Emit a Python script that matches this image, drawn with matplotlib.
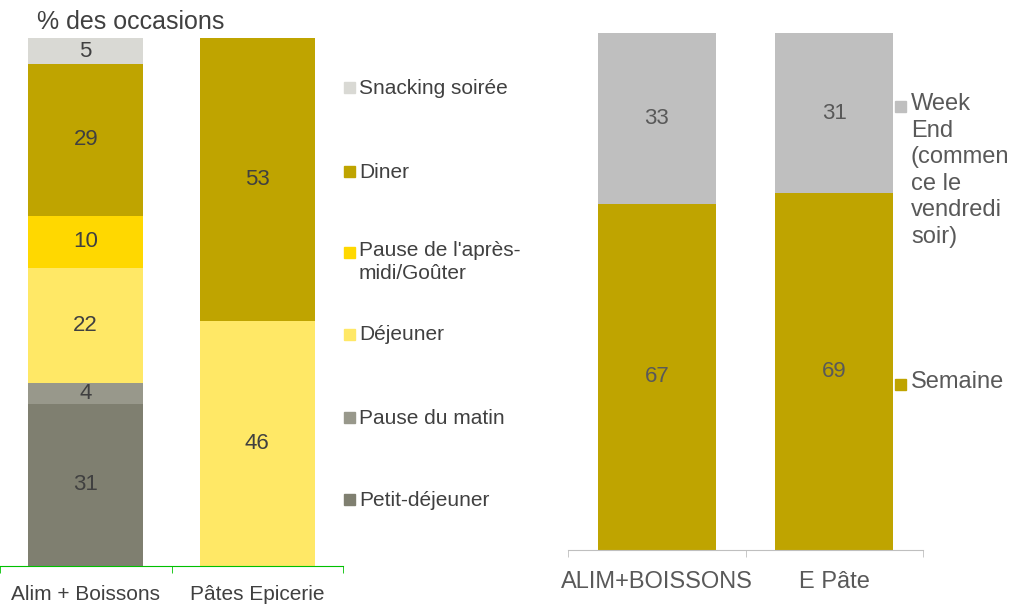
import matplotlib.pyplot as plt
import numpy as np

plt.rcParams['font.family'] = ['Liberation Sans', 'DejaVu Sans']

# Répartition des occasions (valeurs en %)
produits = ["Alim + Boissons", "Pâtes Epicerie"]
occasions = ["Petit-déjeuner", "Pause du matin", "Déjeuner",
             "Pause de l'après-\nmidi/Goûter", "Diner", "Snacking soirée"]
occ_values = {
    "Petit-déjeuner": [31, 0],
    "Pause du matin": [4, 0],
    "Déjeuner": [22, 46],
    "Pause de l'après-\nmidi/Goûter": [10, 0],
    "Diner": [29, 53],
    "Snacking soirée": [5, 0],
}
occ_colors = ["#7f7f70", "#98988b", "#ffe866", "#ffd800", "#bfa400", "#d9d9d4"]

# Semaine / week-end
produits2 = ["ALIM+BOISSONS", "E Pâte"]
periodes = ["Semaine", "Week\nEnd\n(commen\nce le\nvendredi\nsoir)"]
semaine = [67, 69]
week_end = [33, 31]
per_colors = ["#bfa400", "#bfbfbf"]

W, H = 1011, 604
fig = plt.figure(figsize=(W / 100, H / 100), dpi=100)


def stacked(ax, cats, series, colors, width, txt_color, axis_color, fs, pad):
    x = np.arange(len(cats))
    totals = np.sum(series, axis=0)
    bottom = np.zeros(len(cats))
    for vals, col in zip(series, colors):
        vals = np.array(vals, dtype=float)
        share = vals / totals * 100
        ax.bar(x, share, width, bottom=bottom, color=col)
        for xi, v, b, s in zip(x, vals, bottom, share):
            if v > 0:
                ax.text(xi, b + s / 2, f"{v:g}", ha="center", va="center",
                        fontsize=fs, color=txt_color)
        bottom += share
    ax.set_xlim(-0.5, len(cats) - 0.5)
    ax.set_ylim(0, 100)
    for s in ["top", "right", "left"]:
        ax.spines[s].set_visible(False)
    ax.spines["bottom"].set_color(axis_color)
    ax.set_yticks([])
    ax.set_xticks(x)
    ax.set_xticklabels(cats)
    ax.tick_params(axis="x", which="major", length=0, pad=pad)
    ax.set_xticks(np.arange(len(cats) + 1) - 0.5, minor=True)
    ax.tick_params(axis="x", which="minor", length=5, color=axis_color)


# Graphique de gauche
ax1 = fig.add_axes([0 / W, 38 / H, 343 / W, 528 / H])
stacked(ax1, produits, [occ_values[o] for o in occasions], occ_colors,
        0.67, "#404040", "#00c000", 16, 14)
ax1.tick_params(axis="x", which="major", labelcolor="#404040", labelsize=15)
fig.text(37 / W, 1 - 22 / H, "% des occasions", fontsize=18, color="#404040",
         va="center", ha="left")

# légende gauche
leg_y = [500, 418, 335, 241, 172, 88]
for lab, col, y in zip(occasions, occ_colors, leg_y):
    multi = "\n" in lab
    fig.patches.append(plt.Rectangle((344 / W, 1 - ((y + 12 if multi else y) + 5) / H),
                                     11 / W, 11 / H,
                                     transform=fig.transFigure, color=col))
    fig.text(359 / W, 1 - y / H, lab, fontsize=15, color="#404040",
             va="top" if multi else "center", ha="left", linespacing=1.25)

# Graphique de droite
ax2 = fig.add_axes([568 / W, 54 / H, 355 / W, 517 / H])
stacked(ax2, produits2, [semaine, week_end], per_colors,
        0.665, "#595959", "#bfbfbf", 16, 15)
ax2.tick_params(axis="x", which="major", labelcolor="#595959", labelsize=17)

# légende droite
for lab, col, y in zip(periodes, per_colors, [384, 106]):
    fig.patches.append(plt.Rectangle((895 / W, 1 - (y + 6) / H), 11 / W, 11 / H,
                                     transform=fig.transFigure, color=col))
    fig.text(911 / W, 1 - (y - 13) / H, lab, fontsize=17, color="#595959",
             va="top", ha="left", linespacing=1.27)

fig.savefig("out.png", dpi=100)
